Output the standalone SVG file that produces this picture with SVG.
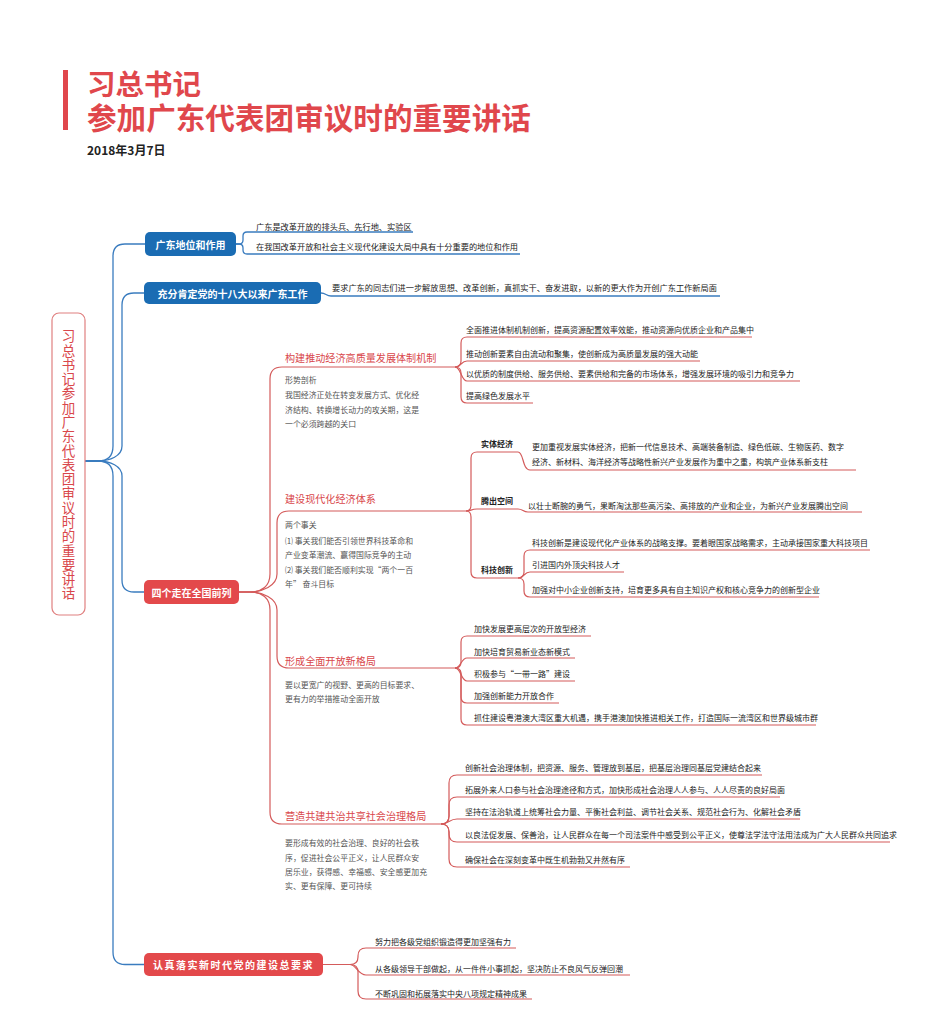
<svg xmlns="http://www.w3.org/2000/svg" width="948" height="1019" viewBox="0 0 948 1019">
<style>
text{font-family:"Noto Sans CJK SC","Noto Sans",sans-serif;dominant-baseline:central}
.title{font-size:29.6px;font-weight:bold;fill:#e0474c}
.date{font-size:12px;font-weight:bold;fill:#222}
.item{font-size:8px;fill:#222}
.bitem{font-size:8.2px;fill:#222}
.note{font-size:7.9px;fill:#555}
.head{font-size:10.1px;fill:#d9474b}
.lbl{font-size:8px;font-weight:bold;fill:#222}
.nt{font-size:10px;font-weight:bold;fill:#fff}
.bl{stroke:#3a7cbf;fill:none;stroke-width:1.3}
.rl{stroke:#d45b5b;fill:none;stroke-width:1.2}
.bn{fill:#1a6cb3}
.rn{fill:#e3494b}
.vt{writing-mode:vertical-rl;font-size:13.5px;letter-spacing:0.78px;fill:#d9474b}
</style>
<rect x="0" y="0" width="948" height="1019" fill="#fff"/>
<g id="title">
<rect x="63" y="70" width="5" height="60" fill="#e0474c"/>
<text class="title"><tspan x="87" y="81.5" font-size="28.5">习总书记</tspan><tspan x="87" y="116">参加广东代表团审议时的重要讲话</tspan></text>
<text class="date" x="87" y="149">2018年3月7日</text>
</g>
<g id="connectors">
<path class="bl" d="M85,461 H98 C108,461 113,456 113,446 V256 Q113,244 125,244 H145"/>
<path class="bl" d="M85,461 H98 C110,461 122,456 122,446 V305 Q122,293 134,293 H144"/>
<path class="bl" d="M85,461 H98 C110,461 122,466 122,476 V580 Q122,592 134,592 H144"/>
<path class="bl" d="M85,461 H98 C108,461 113,466 113,476 V952 Q113,964.5 125,964.5 H144"/>
<path class="bl" d="M236,244 H239 Q243,244 243,240 V236 Q243,232 247,232 H413"/>
<path class="bl" d="M236,244 H239 Q243,244 243,248 V250 Q243,254 247,254 H520"/>
<path class="bl" d="M321,293 C326,293 326,296 331,296 H720"/>
<path class="rl" d="M239,592 H250 C262,592 270,586 270,574 V379 Q270,367 282,367 H455"/>
<path class="rl" d="M239,592 H250 C262,592 277,586 277,574 V523 Q277,511 289,511 H466"/>
<path class="rl" d="M239,592 H250 C262,592 277,598 277,610 V656 Q277,668 289,668 H455"/>
<path class="rl" d="M239,592 H250 C262,592 270,598 270,610 V812 Q270,824 282,824 H441"/>
<path class="rl" d="M455,367 Q461,367 461,361 V343 Q461,337 467,337 H752"/>
<path class="rl" d="M455,367 C461,367 461,361 467,361 H700"/>
<path class="rl" d="M455,367 C461,367 461,381 467,381 H800"/>
<path class="rl" d="M455,367 Q461,367 461,373 V397 Q461,403 467,403 H533"/>
<path class="rl" d="M466,511 Q471,511 471,505 V458 Q471,452 477,452 H518 C524,452 522,470 530,470 H856"/>
<path class="rl" d="M466,511 C471,511 471,509 477,509 H518 C523,509 523,512 528,512 H862"/>
<path class="rl" d="M466,511 Q471,511 471,517 V572 Q471,578 477,578 H518"/>
<path class="rl" d="M518,578 Q524,578 524,572 V556 Q524,550 530,550 H870"/>
<path class="rl" d="M518,578 C524,578 524,572 530,572 H624"/>
<path class="rl" d="M518,578 Q524,578 524,584 V591 Q524,597 530,597 H819"/>
<path class="rl" d="M455,668 Q461,668 461,662 V642 Q461,636 467,636 H591"/>
<path class="rl" d="M455,668 C461,668 461,658 467,658 H575"/>
<path class="rl" d="M455,668 C461,668 461,681 467,681 H575"/>
<path class="rl" d="M455,668 Q461,668 461,674 V697 Q461,703 467,703 H559"/>
<path class="rl" d="M455,668 Q461,668 461,674 V719 Q461,725 467,725 H816"/>
<path class="rl" d="M441,824 Q449,824 449,816 V783 Q449,775 457,775 H762"/>
<path class="rl" d="M441,824 Q449,824 449,816 V805 Q449,797 457,797 H780"/>
<path class="rl" d="M441,824 C449,824 449,819 457,819 H800"/>
<path class="rl" d="M441,824 Q449,824 449,832 V834 Q449,842 457,842 H890"/>
<path class="rl" d="M441,824 Q449,824 449,832 V859 Q449,867 457,867 H630"/>
<path class="rl" d="M323,964.5 H350 Q358,964.5 358,957 V956 Q358,948 366,948 H516"/>
<path class="rl" d="M323,964.5 H350 C356,964.5 358,975 366,975 H630"/>
<path class="rl" d="M323,964.5 H350 Q358,964.5 358,972 V991 Q358,999 366,999 H532"/>
</g>
<g id="root">
<rect x="52" y="313" width="33" height="302" rx="7" fill="#fff" stroke="#e08080" stroke-width="1.2"/>
<text class="vt" x="68.5" y="329.5">习总书记参加广东代表团审议时的重要讲话</text>
</g>
<g id="n1">
<rect class="bn" x="145" y="232" width="91" height="24" rx="5"/>
<text class="nt" x="190.5" y="244" text-anchor="middle">广东地位和作用</text>
<text class="bitem" x="256" y="226">广东是改革开放的排头兵、先行地、实验区</text>
<text class="bitem" x="256" y="246">在我国改革开放和社会主义现代化建设大局中具有十分重要的地位和作用</text>
</g>
<g id="n2">
<rect class="bn" x="144" y="282" width="177" height="22" rx="5"/>
<text class="nt" x="232.5" y="293" text-anchor="middle">充分肯定党的十八大以来广东工作</text>
<text class="bitem" x="332" y="287">要求广东的同志们进一步解放思想、改革创新，真抓实干、奋发进取，以新的更大作为开创广东工作新局面</text>
</g>
<g id="n3">
<rect class="rn" x="144" y="580" width="95" height="24" rx="5"/>
<text class="nt" x="191.5" y="592" text-anchor="middle">四个走在全国前列</text>
</g>
<g id="s1">
<text class="head" x="285" y="357">构建推动经济高质量发展体制机制</text>
<text class="note" x="285" y="379">形势剖析</text>
<text class="note" x="285" y="394">我国经济正处在转变发展方式、优化经</text>
<text class="note" x="285" y="409">济结构、转换增长动力的攻关期，这是</text>
<text class="note" x="285" y="423">一个必须跨越的关口</text>
<text class="item" x="466" y="329" font-size="7.8">全面推进体制机制创新，提高资源配置效率效能，推动资源向优质企业和产品集中</text>
<text class="item" x="466" y="353" font-size="7.8">推动创新要素自由流动和聚集，使创新成为高质量发展的强大动能</text>
<text class="item" x="466" y="373" font-size="8.2">以优质的制度供给、服务供给、要素供给和完备的市场体系，增强发展环境的吸引力和竞争力</text>
<text class="item" x="466" y="395">提高绿色发展水平</text>
</g>
<g id="s2">
<text class="head" x="285" y="498">建设现代化经济体系</text>
<text class="note" x="285" y="524" fill="#333">两个事关</text>
<text class="note" x="285" y="540">⑴ 事关我们能否引领世界科技革命和</text>
<text class="note" x="285" y="554">产业变革潮流、赢得国际竞争的主动</text>
<text class="note" x="285" y="569">⑵ 事关我们能否顺利实现“两个一百</text>
<text class="note" x="285" y="583">年” 奋斗目标</text>
<text class="lbl" x="481" y="443">实体经济</text>
<text class="item" x="532" y="446">更加重视发展实体经济，把新一代信息技术、高端装备制造、绿色低碳、生物医药、数字</text>
<text class="item" x="532" y="461">经济、新材料、海洋经济等战略性新兴产业发展作为重中之重，构筑产业体系新支柱</text>
<text class="lbl" x="481" y="500">腾出空间</text>
<text class="item" x="528" y="505" font-size="8.5">以壮士断腕的勇气，果断淘汰那些高污染、高排放的产业和企业，为新兴产业发展腾出空间</text>
<text class="lbl" x="481" y="569">科技创新</text>
<text class="item" x="532" y="542" font-size="7.95">科技创新是建设现代化产业体系的战略支撑。要着眼国家战略需求，主动承接国家重大科技项目</text>
<text class="item" x="532" y="564">引进国内外顶尖科技人才</text>
<text class="item" x="532" y="589">加强对中小企业创新支持，培育更多具有自主知识产权和核心竞争力的创新型企业</text>
</g>
<g id="s3">
<text class="head" x="285" y="660">形成全面开放新格局</text>
<text class="note" x="285" y="684" font-size="7.7">要以更宽广的视野、更高的目标要求、</text>
<text class="note" x="285" y="698" font-size="7.7">更有力的举措推动全面开放</text>
<text class="item" x="474" y="628">加快发展更高层次的开放型经济</text>
<text class="item" x="474" y="651">加快培育贸易新业态新模式</text>
<text class="item" x="474" y="673">积极参与“一带一路”建设</text>
<text class="item" x="474" y="695">加强创新能力开放合作</text>
<text class="item" x="474" y="717">抓住建设粤港澳大湾区重大机遇，携手港澳加快推进相关工作，打造国际一流湾区和世界级城市群</text>
</g>
<g id="s4">
<text class="head" x="285" y="815">营造共建共治共享社会治理格局</text>
<text class="note" x="285" y="842">要形成有效的社会治理、良好的社会秩</text>
<text class="note" x="285" y="857">序，促进社会公平正义，让人民群众安</text>
<text class="note" x="285" y="871">居乐业，获得感、幸福感、安全感更加充</text>
<text class="note" x="285" y="885">实、更有保障、更可持续</text>
<text class="item" x="465" y="767">创新社会治理体制，把资源、服务、管理放到基层，把基层治理同基层党建结合起来</text>
<text class="item" x="465" y="789">拓展外来人口参与社会治理途径和方式，加快形成社会治理人人参与、人人尽责的良好局面</text>
<text class="item" x="465" y="811">坚持在法治轨道上统筹社会力量、平衡社会利益、调节社会关系、规范社会行为、化解社会矛盾</text>
<text class="item" x="465" y="834">以良法促发展、保善治，让人民群众在每一个司法案件中感受到公平正义，使尊法学法守法用法成为广大人民群众共同追求</text>
<text class="item" x="465" y="859">确保社会在深刻变革中既生机勃勃又井然有序</text>
</g>
<g id="n4">
<rect class="rn" x="144" y="953" width="179" height="23" rx="5"/>
<text class="nt" x="233.5" y="964.5" text-anchor="middle" letter-spacing="1.5">认真落实新时代党的建设总要求</text>
<text class="item" x="375" y="941">努力把各级党组织锻造得更加坚强有力</text>
<text class="item" x="375" y="968">从各级领导干部做起，从一件件小事抓起，坚决防止不良风气反弹回潮</text>
<text class="item" x="375" y="993">不断巩固和拓展落实中央八项规定精神成果</text>
</g>
</svg>
